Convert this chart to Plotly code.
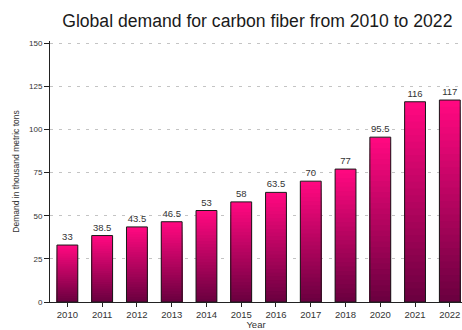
import plotly.graph_objects as go

years = ["2010", "2011", "2012", "2013", "2014", "2015", "2016", "2017", "2018", "2020", "2021", "2022"]
demand = [33, 38.5, 43.5, 46.5, 53, 58, 63.5, 70, 77, 95.5, 116, 117]
labels = ["33", "38.5", "43.5", "46.5", "53", "58", "63.5", "70", "77", "95.5", "116", "117"]

top_rgb = (255, 8, 128)
bot_rgb = (108, 0, 64)
N = 30

fig = go.Figure()
for k in range(N):
    f = 1 - k / N
    t = k / (N - 1)
    c = tuple(round(top_rgb[i] + (bot_rgb[i] - top_rgb[i]) * t) for i in range(3))
    fig.add_trace(go.Bar(
        x=years, y=[v * f for v in demand], width=0.6,
        marker=dict(color="rgb(%d,%d,%d)" % c, line=dict(width=0)),
        hoverinfo="skip", showlegend=False,
    ))

fig.add_trace(go.Bar(
    x=years, y=demand, width=0.6, text=labels, textposition="outside",
    textfont=dict(size=9.5, color="#333333", family="Liberation Sans, Arial"),
    marker=dict(color="rgba(0,0,0,0)", line=dict(color="#1a1a1a", width=1)),
    cliponaxis=False, showlegend=False,
))

fig.update_layout(
    width=462, height=330, barmode="overlay",
    margin=dict(l=50, r=0, t=41, b=28),
    paper_bgcolor="white", plot_bgcolor="white",
    font=dict(family="Liberation Sans, Arial", color="#333333"),
    title=dict(text="Global demand for carbon fiber from 2010 to 2022",
               x=0.557, xanchor="center", y=0.936, yanchor="middle",
               font=dict(size=17.6, color="#1a1a1a")),
    xaxis=dict(type="category", range=[-0.5, 11.35], showline=True, linecolor="#222222",
               linewidth=1, ticks="outside", ticklen=4, tickcolor="#222222",
               tickfont=dict(size=9.5, color="#333333"), showgrid=False,
               title=dict(text="Year", font=dict(size=9.5, color="#333333"), standoff=2)),
    yaxis=dict(range=[0, 151.2], tickvals=[0, 25, 50, 75, 100, 125, 150],
               showline=True, linecolor="#222222", linewidth=1,
               ticks="outside", ticklen=5, tickcolor="#222222",
               tickfont=dict(size=8, color="#333333"),
               showgrid=True, gridcolor="#c4c4c4", griddash="3px,6px", gridwidth=1,
               zeroline=False,
               title=dict(text="Demand in thousand metric tons",
                          font=dict(size=8.5, color="#333333"), standoff=8)),
)

fig.write_html("out.html")
